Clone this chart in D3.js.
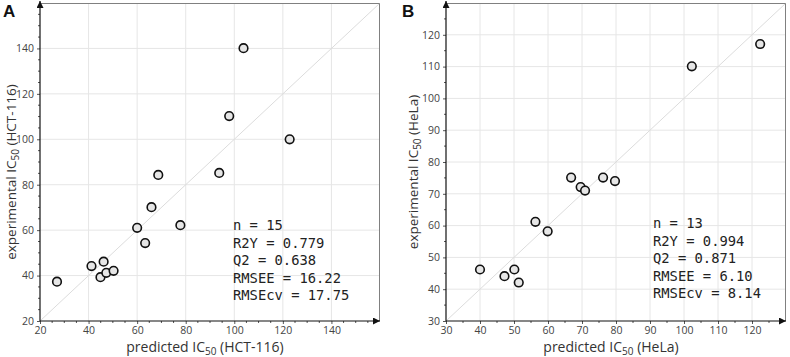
<!DOCTYPE html>
<html>
<head>
<meta charset="utf-8">
<script src="https://cdn.jsdelivr.net/npm/d3@7"></script>
<style>
  body { margin: 0; background: #fff; }
  svg { display: block; }
</style>
</head>
<body>
<div class="canvas"></div>
<script>
// panel A: HCT-116
const predictedA = [27, 41.2, 46.2, 44.9, 47.3, 50.3, 60, 63.3, 65.9, 68.7, 77.8, 93.8, 97.9, 103.8, 122.8];
const experimentalA = [37.3, 44.2, 46.1, 39.3, 41.2, 42.1, 61, 54.3, 70.1, 84.3, 62.2, 85.2, 110.2, 140.1, 100];
const ticksA = [20, 40, 60, 80, 100, 120, 140];
const statsA = ['n = 15', 'R2Y = 0.779', 'Q2 = 0.638', 'RMSEE = 16.22', 'RMSEcv = 17.75'];

// panel B: HeLa
const predictedB = [40, 47.2, 50.1, 51.4, 56.3, 59.9, 66.8, 69.6, 70.9, 76.2, 79.7, 102.3, 122.4];
const experimentalB = [46.2, 44.1, 46.2, 42.1, 61.2, 58.2, 75.1, 72.1, 71, 75.1, 74, 110.1, 117.1];
const ticksB = [30, 40, 50, 60, 70, 80, 90, 100, 110, 120];
const statsB = ['n = 13', 'R2Y = 0.994', 'Q2 = 0.871', 'RMSEE = 6.10', 'RMSEcv = 8.14'];

const dimensions = { width: 790, height: 357 };

const svg = d3
  .select('.canvas')
  .append('svg')
  .attr('width', dimensions.width)
  .attr('height', dimensions.height);

const defs = svg.append('defs');
defs
  .append('marker')
  .attr('id', 'arrow')
  .attr('viewBox', '0 0 10 10')
  .attr('refX', 10)
  .attr('refY', 5)
  .attr('markerWidth', 9)
  .attr('markerHeight', 7)
  .attr('markerUnits', 'userSpaceOnUse')
  .attr('orient', 'auto')
  .append('path')
  .attr('d', 'M0,0 L10,5 L0,10 Z')
  .attr('fill', '#111');

const drawPanel = (opts) => {
  const { left, top, width, height, domain, ticks, minorStep, xs, ys, stats, label, cell, statsX } = opts;

  const g = svg.append('g').attr('transform', `translate(${left}, ${top})`);

  const x = d3.scaleLinear().domain(domain).range([0, width]);
  const y = d3.scaleLinear().domain(domain).range([height, 0]);

  const minor = d3.range(domain[0], domain[1], minorStep).filter((v) => !ticks.includes(v));

  // grid lines
  g.append('g')
    .selectAll('line.gx')
    .data(ticks.slice(1))
    .enter()
    .append('line')
    .attr('x1', (d) => x(d))
    .attr('x2', (d) => x(d))
    .attr('y1', 0)
    .attr('y2', height)
    .attr('stroke', '#e6e6e6');
  g.append('g')
    .selectAll('line.gy')
    .data(ticks.slice(1))
    .enter()
    .append('line')
    .attr('y1', (d) => y(d))
    .attr('y2', (d) => y(d))
    .attr('x1', 0)
    .attr('x2', width)
    .attr('stroke', '#e6e6e6');

  // y = x reference
  g.append('line')
    .attr('x1', x(domain[0]))
    .attr('y1', y(domain[0]))
    .attr('x2', x(domain[1]))
    .attr('y2', y(domain[1]))
    .attr('stroke', '#dcdcdc');

  // top and right frame
  g.append('path')
    .attr('d', `M0,0.5 H${width - 0.5} V${height}`)
    .attr('fill', 'none')
    .attr('stroke', '#808080');

  // axes
  const xAxis = g.append('g').attr('transform', `translate(0, ${height})`);
  xAxis
    .call(d3.axisBottom(x).tickValues(ticks).tickSize(3).tickPadding(3))
    .call((s) => s.select('.domain').remove());
  xAxis
    .selectAll('line.minor')
    .data(minor)
    .enter()
    .append('line')
    .attr('x1', (d) => x(d))
    .attr('x2', (d) => x(d))
    .attr('y1', 0)
    .attr('y2', 2)
    .attr('stroke', '#555');

  const yAxis = g.append('g');
  yAxis
    .call(d3.axisLeft(y).tickValues(ticks).tickSize(3).tickPadding(3))
    .call((s) => s.select('.domain').remove());
  yAxis
    .selectAll('line.minor')
    .data(minor)
    .enter()
    .append('line')
    .attr('y1', (d) => y(d))
    .attr('y2', (d) => y(d))
    .attr('x1', 0)
    .attr('x2', -2)
    .attr('stroke', '#555');

  g.selectAll('.tick line').attr('stroke', '#555');
  g.selectAll('.tick text')
    .attr('fill', '#444')
    .style('font-family', '"Open Sans", sans-serif')
    .style('font-size', '10.5px');

  // axis lines with arrows
  g.append('line')
    .attr('x1', 0)
    .attr('y1', height)
    .attr('x2', width)
    .attr('y2', height)
    .attr('stroke', '#111')
    .attr('stroke-width', 1.2)
    .attr('marker-end', 'url(#arrow)');
  g.append('line')
    .attr('x1', 0)
    .attr('y1', height)
    .attr('x2', 0)
    .attr('y2', -2)
    .attr('stroke', '#111')
    .attr('stroke-width', 1.2)
    .attr('marker-end', 'url(#arrow)');

  // points
  g.append('g')
    .selectAll('circle')
    .data(xs.map((v, i) => ({ px: v, ex: ys[i] })))
    .enter()
    .append('circle')
    .attr('cx', (d) => x(d.px))
    .attr('cy', (d) => y(d.ex))
    .attr('r', 4.3)
    .attr('fill', '#e6e6e6')
    .attr('stroke', '#111')
    .attr('stroke-width', 1.6);

  // statistics block
  g.append('text')
    .attr('x', statsX)
    .attr('y', 0)
    .style('font-family', '"DejaVu Sans Mono", monospace')
    .style('font-size', '13.8px')
    .attr('fill', '#222')
    .selectAll('tspan')
    .data(stats)
    .enter()
    .append('tspan')
    .attr('x', statsX)
    .attr('y', (d, i) => opts.statsY + i * 17.6)
    .text((d) => d);

  // axis titles with subscript
  const title = (parent, pre, post) => {
    parent.append('tspan').text(pre);
    parent.append('tspan').attr('font-size', '10px').attr('dy', 3).text('50');
    parent.append('tspan').attr('dy', -3).text(post);
  };
  const xt = g.append('text')
    .attr('x', width / 2 - 5)
    .attr('y', height + 31)
    .attr('text-anchor', 'middle')
    .attr('fill', '#333')
    .style('font-family', '"Open Sans", sans-serif')
    .style('font-size', '14px');
  title(xt, 'predicted IC', ` (${cell})`);
  const yt = g.append('text')
    .attr('transform', `translate(${opts.yTitleX}, ${height / 2 + 10}) rotate(-90)`)
    .attr('text-anchor', 'middle')
    .attr('fill', '#333')
    .style('font-family', '"Open Sans", sans-serif')
    .style('font-size', '13.5px');
  title(yt, 'experimental IC', ` (${cell})`);

  // panel letter
  svg.append('text')
    .attr('x', opts.labelX)
    .attr('y', 17)
    .attr('fill', '#111')
    .style('font-family', '"Liberation Sans", Arial, sans-serif')
    .style('font-weight', 'bold')
    .style('font-size', '17px')
    .text(label);
};

drawPanel({
  left: 40, top: 3, width: 340, height: 318,
  domain: [20, 160], ticks: ticksA, minorStep: 5,
  xs: predictedA, ys: experimentalA, stats: statsA,
  label: 'A', cell: 'HCT-116', statsX: 193, statsY: 227, yTitleX: -24, labelX: 3,
});

drawPanel({
  left: 446, top: 3, width: 340, height: 318,
  domain: [30, 130], ticks: ticksB, minorStep: 5,
  xs: predictedB, ys: experimentalB, stats: statsB,
  label: 'B', cell: 'HeLa', statsX: 207, statsY: 225, yTitleX: -28, labelX: 402,
});
</script>
</body>
</html>
